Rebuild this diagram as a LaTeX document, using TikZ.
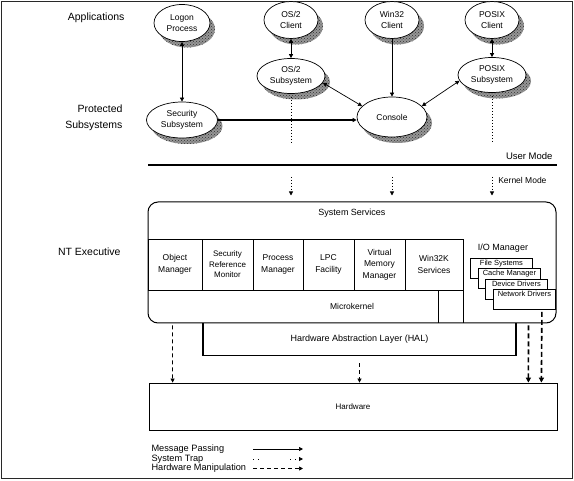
\documentclass[tikz,border=0pt]{standalone}
\usepackage{fontspec}
\setmainfont{Liberation Sans}
\usepackage{xcolor}
\usepackage{tikz}
\usetikzlibrary{shapes.geometric, arrows.meta, positioning, calc, patterns}
\definecolor{shadowgray}{RGB}{150, 150, 150}
\definecolor{framegray}{RGB}{40, 40, 40}

\tikzset{
    proc/.style={ellipse, draw, fill=white, inner sep=0pt, align=center,
        line width=0.7pt, font=\fontsize{8.5}{11.5}\selectfont},
    procshadow/.style={draw=none, fill=shadowgray, postaction={pattern=crosshatch dots, pattern color=black!80}},
    module/.style={draw, line width=0.7pt, minimum height=51pt, inner sep=1pt,
        outer sep=0pt, align=center, font=\fontsize{8.5}{11.5}\selectfont},
    iobox/.style={draw, fill=white, line width=0.9pt, minimum width=62pt,
        minimum height=20pt, anchor=north west},
    iotext/.style={anchor=north, inner sep=1.5pt, font=\fontsize{7.5}{9}\selectfont},
    sidelabel/.style={anchor=east, align=right, font=\fontsize{10.5}{16}\selectfont},
    msg/.style={-{Triangle[length=4pt, width=4pt]}, line width=0.7pt},
    msgboth/.style={{Triangle[length=4pt, width=4pt]}-{Triangle[length=4pt, width=4pt]}, line width=0.7pt},
    trap/.style={dash pattern=on 1pt off 2pt, line width=0.8pt},
    manip/.style={-{Triangle[length=4pt, width=4pt]}, dash pattern=on 4pt off 3pt, line width=0.7pt},
    bigmanip/.style={-{Triangle[length=5pt, width=5pt]}, dash pattern=on 5pt off 3pt, line width=1.6pt},
}

\begin{document}
\begin{tikzpicture}[x=1pt, y=-1pt]
    \useasboundingbox (0,0) rectangle (574,481);
    \draw[framegray, line width=0.8pt] (1.5,1.5) rectangle (572.5,478.5);

    % side labels
    \node[sidelabel] (lapps) at (128,18) {Applications};
    \node[sidelabel] (lprot) at (126,118) {Protected\\Subsystems};
    \node[sidelabel] (lexec) at (124,252) {NT Executive};

    % shadows under the processes
    \path[procshadow] (187,29) ellipse [x radius=28, y radius=18.5];
    \path[procshadow] (296,26) ellipse [x radius=27, y radius=18.5];
    \path[procshadow] (397,26) ellipse [x radius=27, y radius=18.5];
    \path[procshadow] (497,26) ellipse [x radius=27, y radius=18.5];
    \path[procshadow] (296,82) ellipse [x radius=34, y radius=17.5];
    \path[procshadow] (497,81) ellipse [x radius=34, y radius=17.5];
    \path[procshadow] (187,126) ellipse [x radius=35.5, y radius=18];
    \path[procshadow] (397,123) ellipse [x radius=35, y radius=20];

    % user mode
    \node[proc, minimum width=56pt, minimum height=37pt] (logon) at (182,23) {Logon\\Process};
    \node[proc, minimum width=54pt, minimum height=37pt] (os2cl) at (291,20) {OS/2\\Client};
    \node[proc, minimum width=54pt, minimum height=37pt] (w32cl) at (392,20) {Win32\\Client};
    \node[proc, minimum width=54pt, minimum height=37pt] (pxcl) at (492,20) {POSIX\\Client};
    \node[proc, minimum width=68pt, minimum height=35pt] (os2sub) at (291,76) {OS/2\\Subsystem};
    \node[proc, minimum width=68pt, minimum height=35pt] (pxsub) at (492,75) {POSIX\\Subsystem};
    \node[proc, minimum width=71pt, minimum height=36pt] (secsub) at (182,120) {Security\\Subsystem};
    \node[proc, minimum width=70pt, minimum height=40pt] (console) at (392,117) {Console};

    \draw[msgboth] (logon) -- (secsub);
    \draw[msgboth] (os2cl) -- (os2sub);
    \draw[msgboth] (pxcl) -- (pxsub);
    \draw[msg] (w32cl) -- (console);
    \draw[msgboth] (os2sub.-12) -- (console.160);
    \draw[msgboth] (pxsub.190) -- (console.20);
    \draw[msg, line width=1.6pt] (secsub.east) -- (secsub.east -| console.west);

    % user / kernel boundary
    \coordinate (umode) at (0,143);
    \coordinate (kmode) at (0,177);
    \draw[line width=2.6pt] (148,165) -- (557,165);
    \node[anchor=east, font=\fontsize{9.5}{11}\selectfont] (luser) at (556,156) {User Mode};
    \node[anchor=east, font=\fontsize{8.5}{10}\selectfont] (lkernel) at (550,180) {Kernel Mode};

    % executive
    \node[draw, rounded corners=10pt, line width=1pt, minimum width=408pt, minimum height=121pt] (exec) at (352,262.5) {};
    \node[font=\fontsize{9}{11}\selectfont] (syssvc) at (352,213) {System Services};

    \node[module, minimum width=54pt] (objmgr) at (175,264.5) {Object\\Manager};
    \node[module, minimum width=51pt, right=0pt of objmgr, font=\fontsize{8}{10.5}\selectfont] (secmon) {Security\\Reference\\Monitor};
    \node[module, minimum width=50pt, right=0pt of secmon] (procmgr) {Process\\Manager};
    \node[module, minimum width=51pt, right=0pt of procmgr] (lpc) {LPC\\Facility};
    \node[module, minimum width=51pt, right=0pt of lpc] (vmm) {Virtual\\Memory\\Manager};
    \node[module, minimum width=58pt, right=0pt of vmm] (w32k) {Win32K\\Services};
    \draw[line width=0.7pt] (w32k.south east) -- (w32k.south east |- exec.south);
    \draw[line width=0.7pt] (objmgr.south west) -- ++(290,0) coordinate (mk) -- (mk |- exec.south);
    \node[font=\fontsize{8.5}{10}\selectfont] (ukernel) at ([yshift=-16.5pt]objmgr.south -| exec.center) {Microkernel};

    % I/O manager
    \node[font=\fontsize{9}{11}\selectfont] (iomgr) at (503,248) {I/O Manager};
    \node[iobox, label={[iotext]north:File Systems}] (fsys) at (470,258) {};
    \node[iobox, label={[iotext]north:Cache Manager}] (cachemgr) at ([shift={(8,10)}]fsys.north west) {};
    \node[iobox, label={[iotext]north:Device Drivers}] (devdrv) at ([shift={(7,11)}]cachemgr.north west) {};
    \node[iobox, label={[iotext]north:Network Drivers}] (netdrv) at ([shift={(8,10)}]devdrv.north west) {};

    % HAL
    \node[minimum width=313pt, minimum height=32pt, anchor=north, font=\fontsize{9}{11}\selectfont] (hal) at (359.5,323) {Hardware Abstraction Layer (HAL)};
    \draw[line width=1.6pt] (hal.north west) |- (hal.south east) -- (hal.north east);

    % hardware
    \node[draw, line width=0.8pt, minimum width=408pt, minimum height=47pt, font=\fontsize{8}{10}\selectfont] (hw) at (353,406.5) {Hardware};

    % system traps
    \draw[trap, shorten <=3pt] (os2sub.south) -- (os2sub.south |- umode);
    \draw[trap, shorten <=3pt] (pxsub.south) -- (pxsub.south |- umode);
    \draw[trap, -{Triangle[length=4pt, width=4pt]}, shorten >=6pt] (os2sub.south |- kmode) -- (os2sub.south |- exec.north);
    \draw[trap, -{Triangle[length=4pt, width=4pt]}, shorten >=6pt] (console.south |- kmode) -- (console.south |- exec.north);
    \draw[trap, -{Triangle[length=4pt, width=4pt]}, shorten >=6pt] (pxsub.south |- kmode) -- (pxsub.south |- exec.north);

    % hardware manipulation
    \draw[manip, shorten <=2pt] ([xshift=25pt]exec.south west) -- ([xshift=24pt]hw.north west);
    \draw[manip, shorten <=8pt] (hal.south) -- (hal.south |- hw.north);
    \draw[bigmanip, shorten <=2pt] ([xshift=-28pt]exec.south east) -- ([xshift=-29pt]hw.north east);
    \draw[bigmanip, shorten <=2pt] ([xshift=-14pt]netdrv.south east) -- ([xshift=-16pt]hw.north east);

    % legend
    \node[anchor=west, font=\fontsize{9.2}{11}\selectfont] (lgmsg) at (148,449) {Message Passing};
    \node[anchor=west, font=\fontsize{9.2}{11}\selectfont] (lgtrap) at (148,459) {System Trap};
    \node[anchor=west, font=\fontsize{9.2}{11}\selectfont] (lgman) at (148,468.5) {Hardware Manipulation};
    \coordinate (k1) at (253,449);
    \coordinate (k2) at (253,459);
    \coordinate (k3) at (253,468.5);
    \draw[msg] (k1) -- ++(50,0);
    \draw[-{Triangle[length=4pt, width=4pt]}, line width=0.8pt, dash pattern=on 1pt off 4pt on 1pt off 31pt] (k2) -- ++(50,0);
    \draw[manip] (k3) -- ++(50,0);
\end{tikzpicture}
\end{document}
